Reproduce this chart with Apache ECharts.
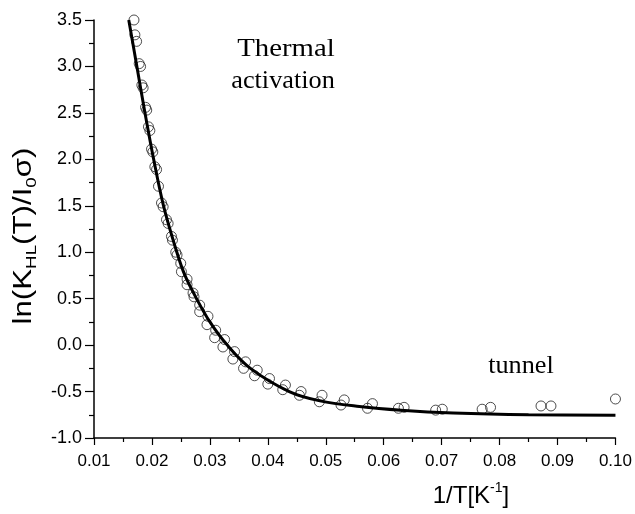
<!DOCTYPE html>
<html><head><meta charset="utf-8">
<script src="https://cdn.jsdelivr.net/npm/echarts@6/dist/echarts.min.js"></script>
<style>html,body{margin:0;padding:0;background:#fff}#c{width:635px;height:514px}</style>
</head><body><div id="c"></div>
<script>
// measured points (open circles)
const measuredX = [0.0169,0.01706,0.01735,0.0178,0.01804,0.01826,0.01848,0.0189,0.0191,0.0194,0.01964,0.01993,0.02015,0.0205,0.0208,0.02113,0.02165,0.02193,0.02251,0.02279,0.02337,0.02354,0.02411,0.02433,0.02497,0.02509,0.02606,0.02606,0.02709,0.02726,0.02824,0.02824,0.02967,0.0295,0.031,0.03082,0.03254,0.03225,0.03426,0.03397,0.03616,0.03581,0.03817,0.03771,0.04029,0.0400,0.04304,0.04258,0.04574,0.04545,0.04936,0.04889,0.05319,0.05263,0.05806,0.0572,0.06352,0.06254,0.07011,0.06897,0.07844,0.07699,0.08887,0.08715,0.1000];
const measuredY = [3.50,3.34,3.27,3.03,3.00,2.80,2.77,2.56,2.53,2.35,2.31,2.11,2.08,1.92,1.89,1.71,1.53,1.49,1.35,1.31,1.17,1.13,1.00,0.97,0.88,0.79,0.71,0.65,0.56,0.52,0.43,0.36,0.31,0.22,0.16,0.08,0.06,-0.02,-0.07,-0.15,-0.18,-0.25,-0.27,-0.33,-0.36,-0.42,-0.43,-0.48,-0.50,-0.54,-0.54,-0.61,-0.59,-0.645,-0.63,-0.68,-0.67,-0.68,-0.69,-0.70,-0.67,-0.69,-0.655,-0.655,-0.58];
// fitted curve (solid line)
const fitX = [0.0160,0.0174,0.0188,0.0203,0.0220,0.0243,0.0257,0.0277,0.0300,0.0330,0.0370,0.0437,0.0490,0.0558,0.0630,0.0720,0.0850,0.1000];
const fitY = [3.50,3.00,2.50,2.00,1.50,1.00,0.75,0.50,0.25,0.00,-0.25,-0.50,-0.60,-0.66,-0.70,-0.73,-0.75,-0.755];
// axis ranges / labels
const xRange = [0.01, 0.10, 0.01];
const yRange = [-1.0, 3.5, 0.5];
const yName = ['ln(K', 'HL', '(T)/I', '0', 'σ)'];
const xName = ['1/T[K', '-1', ']'];
const notes = ['Thermal', 'activation', 'tunnel'];

const chart = echarts.init(document.getElementById('c'));
const sans = 'Liberation Sans, Arial, sans-serif';
const serif = 'Liberation Serif, Times New Roman, serif';
const axisCommon = {
  splitLine:{show:false},
  axisLine:{show:true, onZero:false, lineStyle:{color:'#000', width:1.5}},
  axisTick:{show:true, inside:false, lineStyle:{color:'#000', width:1.2}},
  minorTick:{show:true, splitNumber:2, lineStyle:{color:'#000', width:1.2}},
  minorSplitLine:{show:false}
};
chart.setOption({
  animation:false,
  backgroundColor:'#fff',
  grid:{left:94, right:18, top:20, bottom:76, containLabel:false},
  xAxis: Object.assign({}, axisCommon, {
    type:'value', min:xRange[0], max:xRange[1], interval:xRange[2],
    axisTick:Object.assign({}, axisCommon.axisTick, {length:7}),
    minorTick:Object.assign({}, axisCommon.minorTick, {length:4}),
    axisLabel:{color:'#000', fontSize:17, fontFamily:sans, margin:15, formatter:v=>v.toFixed(2)}
  }),
  yAxis: Object.assign({}, axisCommon, {
    type:'value', min:yRange[0], max:yRange[1], interval:yRange[2],
    axisTick:Object.assign({}, axisCommon.axisTick, {length:9}),
    minorTick:Object.assign({}, axisCommon.minorTick, {length:5}),
    axisLabel:{color:'#000', fontSize:18, fontFamily:sans, margin:12, formatter:v=>v.toFixed(1)}
  }),
  series:[
    {type:'scatter', clip:false, symbol:'circle', symbolSize:10, z:2,
     itemStyle:{color:'rgba(0,0,0,0)', borderColor:'#222', borderWidth:1},
     data: measuredX.map((x,i)=>[x, measuredY[i]])},
    {type:'line', smooth:0.35, showSymbol:false, symbol:'none', z:3,
     lineStyle:{color:'#000', width:3},
     data: fitX.map((x,i)=>[x, fitY[i]])}
  ],
  graphic:[
    {type:'text', x:286, y:49, scaleX:1.15, style:{text:notes[0], font:'25px '+serif, fill:'#000', align:'center', verticalAlign:'middle'}},
    {type:'text', x:283, y:81, scaleX:1.05, style:{text:notes[1], font:'25px '+serif, fill:'#000', align:'center', verticalAlign:'middle'}},
    {type:'text', x:521, y:366, scaleX:1.05, style:{text:notes[2], font:'25px '+serif, fill:'#000', align:'center', verticalAlign:'middle'}},
    {type:'text', x:24, y:236, rotation:Math.PI/2, scaleX:1.25,
     style:{text:'{m|'+yName[0]+'}{s|'+yName[1]+'}{m|'+yName[2]+'}{s|'+yName[3]+'}{m|'+yName[4]+'}',
       align:'center', verticalAlign:'middle', fill:'#000',
       rich:{m:{fontSize:25, fontFamily:sans, lineHeight:30, fill:'#000'},
             s:{fontSize:15, fontFamily:sans, lineHeight:14, verticalAlign:'bottom', fill:'#000'}}}},
    {type:'text', x:471, y:496,
     style:{text:'{m|'+xName[0]+'}{u|'+xName[1]+'}{m|'+xName[2]+'}',
       align:'center', verticalAlign:'middle', fill:'#000',
       rich:{m:{fontSize:24, fontFamily:sans, lineHeight:30, fill:'#000'},
             u:{fontSize:14, fontFamily:sans, lineHeight:14, verticalAlign:'top', fill:'#000'}}}}
  ]
});
</script></body></html>
